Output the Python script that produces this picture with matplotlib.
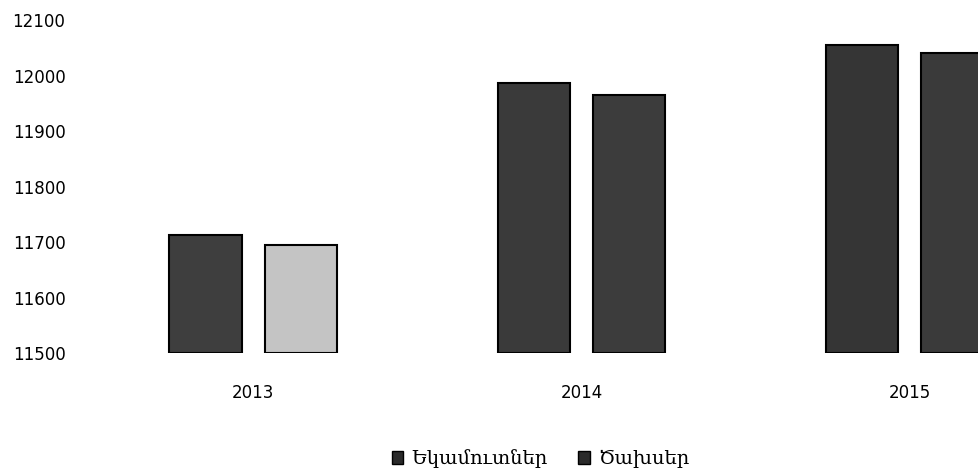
import matplotlib
matplotlib.use("Agg")
import matplotlib.pyplot as plt
import numpy as np
from matplotlib.patches import Patch

categories = ["2013", "2014", "2015"]
series_names = ["Եկամուտներ", "Ծախսեր"]
income = [11712, 11987, 12055]
expenses = [11695, 11965, 12041]
yticks = [11500, 11600, 11700, 11800, 11900, 12000, 12100]

# per-bar fill tones (approximating the scanned texture)
income_colors = ["#3e3e3e", "#3a3a3a", "#353535"]
expense_colors = ["#c4c4c4", "#3c3c3c", "#3a3a3a"]

fig = plt.figure(figsize=(9.79, 4.73), dpi=100)
ax = fig.add_axes([89 / 979, 120 / 473, (1074 - 89) / 979, 333 / 473])

x = np.arange(len(categories))
w = 0.22
off = 0.035 + w / 2
base = yticks[0]
ax.bar(x - off, np.array(income) - base, w, bottom=base,
       color=income_colors, edgecolor="black", linewidth=1.5, label=series_names[0])
ax.bar(x + off, np.array(expenses) - base, w, bottom=base,
       color=expense_colors, edgecolor="black", linewidth=1.5, label=series_names[1])

ax.set_xlim(-0.5, len(categories) - 0.5)
ax.set_ylim(yticks[0], yticks[-1])
ax.set_yticks(yticks)
ax.set_yticklabels([str(v) for v in yticks], fontsize=12, family="DejaVu Sans")
ax.set_xticks(x)
ax.set_xticklabels(categories, fontsize=12, family="DejaVu Sans")
ax.tick_params(axis="both", length=0)
ax.tick_params(axis="y", pad=17)
ax.tick_params(axis="x", pad=22)
for s in ax.spines.values():
    s.set_visible(False)

handles = [Patch(facecolor="#2a2a2a", edgecolor="black", label=series_names[0]),
           Patch(facecolor="#2a2a2a", edgecolor="black", label=series_names[1])]
fig.legend(handles=handles, loc="center", bbox_to_anchor=(0.552, 14 / 473), ncol=2,
           frameon=False, prop={"family": "DejaVu Serif", "size": 14},
           handlelength=0.6, handleheight=0.6, handletextpad=0.4, columnspacing=1.6)

fig.savefig("out.png", dpi=100)
